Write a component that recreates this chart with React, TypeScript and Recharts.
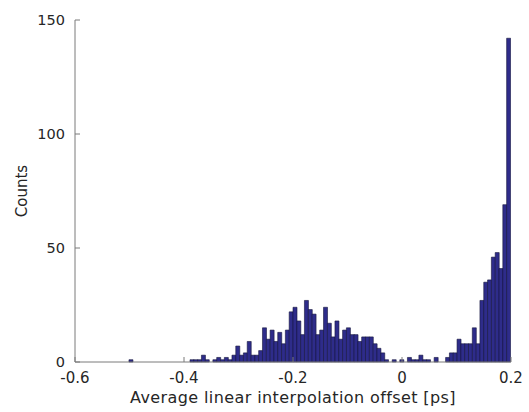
import { BarChart, Bar, XAxis, YAxis, Label } from 'recharts'

// histogram of average linear interpolation offsets, 100 bins
const BIN_START = -0.4975
const BIN_WIDTH = 0.007
const COUNTS = [
  1, 0, 0, 0, 0, 0, 0, 0, 0, 0,
  0, 0, 0, 0, 0, 0, 1, 1, 1, 3,
  1, 0, 1, 2, 1, 2, 1, 3, 7, 3,
  4, 9, 3, 3, 5, 15, 10, 14, 9, 13,
  8, 14, 22, 24, 18, 12, 27, 23, 21, 12,
  14, 24, 17, 11, 18, 10, 14, 15, 12, 12,
  9, 11, 11, 11, 8, 6, 4, 1, 0, 1,
  0, 1, 0, 2, 1, 1, 3, 1, 1, 0,
  2, 0, 0, 2, 4, 4, 10, 8, 8, 8,
  15, 8, 27, 35, 36, 46, 48, 41, 69, 142,
]
const X_TICKS = [-0.6, -0.4, -0.2, 0, 0.2]
const Y_TICKS = [0, 50, 100, 150]

const rows = COUNTS.map((count, i) => ({ offset: +(BIN_START + i * BIN_WIDTH).toFixed(4), count }))

const C = { bar: '#2E2C8A', edge: '#16163C', axis: '#7A7A7A', text: '#262626' }
const FONT = 'DejaVu Sans, sans-serif'

const XTick = (p: any) => (
  <g>
    <line x1={p.x} x2={p.x} y1={p.y - 10} y2={p.y - 15} stroke={C.axis} />
    <text x={p.x} y={p.y} dy="0.71em" textAnchor="middle" fontSize={15} fill={C.text} fontFamily={FONT}>
      {p.payload.value === 0 ? '0' : String(p.payload.value)}
    </text>
  </g>
)

const YTick = (p: any) => (
  <g>
    <line x1={p.x + 10} x2={p.x + 15} y1={p.y} y2={p.y} stroke={C.axis} />
    <text x={p.x} y={p.y} dy="0.35em" textAnchor="end" fontSize={14.5} fill={C.text} fontFamily={FONT}>
      {p.payload.value}
    </text>
  </g>
)

export default function App() {
  return (
    <div style={{ position: 'absolute', left: 0, top: 0, background: '#fff' }}>
      <BarChart width={529} height={412} data={rows} barCategoryGap={0} barGap={0}
        margin={{ top: 20, right: 18, left: 15, bottom: 0 }} style={{ fontFamily: FONT }}>
        <XAxis dataKey="offset" type="number" domain={[-0.6, 0.2]} ticks={X_TICKS} allowDataOverflow
          height={50} tickSize={0} tickMargin={10} tick={<XTick />} stroke={C.axis}>
          <Label value="Average linear interpolation offset [ps]" position="insideBottom" offset={9}
            style={{ fontSize: 16, fill: C.text, fontFamily: FONT, letterSpacing: 0.4 }} />
        </XAxis>
        <YAxis type="number" domain={[0, 150]} ticks={Y_TICKS} width={60}
          tickSize={0} tickMargin={10} tick={<YTick />} stroke={C.axis}>
          <Label value="Counts" angle={-90} position="insideLeft" offset={7}
            style={{ fontSize: 15, fill: C.text, fontFamily: FONT, textAnchor: 'middle' }} />
        </YAxis>
        <Bar dataKey="count" fill={C.bar} stroke={C.edge} strokeWidth={0.6} isAnimationActive={false} />
      </BarChart>
    </div>
  )
}
